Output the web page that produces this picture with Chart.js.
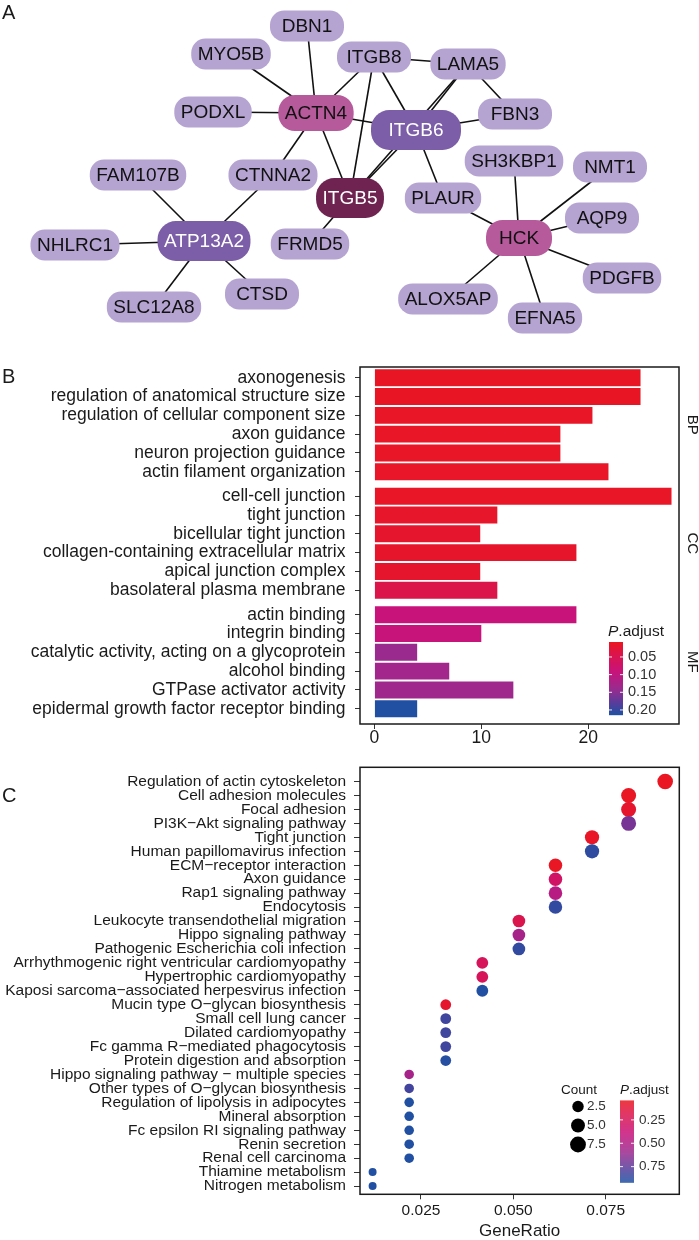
<!DOCTYPE html>
<html>
<head>
<meta charset="utf-8">
<script src="https://cdn.jsdelivr.net/npm/chart.js@4.4.1/dist/chart.umd.min.js"></script>
<style>
  html, body { margin: 0; padding: 0; background: #fff; }
  #wrap { position: relative; width: 699px; height: 1240px; background: #fff; }
  canvas { position: absolute; left: 0; }
</style>
</head>
<body>
<div id="wrap">
  <canvas id="netChart" width="699" height="340" style="top:0px"></canvas>
  <canvas id="barChart" width="699" height="410" style="top:340px"></canvas>
  <canvas id="dotChart" width="699" height="490" style="top:750px"></canvas>
</div>
<script>
"use strict";

// ---- A: PPI network (layout coordinates, y grows downward) ----
const geneNames = ["DBN1", "MYO5B", "PODXL", "ACTN4", "ITGB8", "LAMA5", "FBN3", "ITGB6",
  "SH3KBP1", "NMT1", "CTNNA2", "FAM107B", "ITGB5", "PLAUR", "HCK", "AQP9", "PDGFB",
  "ALOX5AP", "EFNA5", "ATP13A2", "NHLRC1", "FRMD5", "CTSD", "SLC12A8"];
const layoutX = [307, 231, 213, 316, 374, 468, 515, 416, 514, 610, 273, 138, 350, 443,
  519, 602, 622, 448, 545, 204, 75, 310, 262, 154];
const layoutY = [26, 54, 112, 113, 57, 64, 114, 130, 161, 167, 175, 175, 198, 198,
  238, 218, 278, 299, 318, 241, 245, 244, 294, 307];
// 0 = leaf, 1 = hub, 2 = big hub, 3 = core
const geneLevel = [0, 0, 0, 1, 0, 0, 0, 2, 0, 0, 0, 0, 3, 0, 1, 0, 0, 0, 0, 2, 0, 0, 0, 0];
const links = [
  ["ACTN4", "MYO5B"], ["ACTN4", "DBN1"], ["ACTN4", "PODXL"], ["ACTN4", "ITGB8"],
  ["ACTN4", "ITGB6"], ["ACTN4", "CTNNA2"], ["ACTN4", "ITGB5"],
  ["ITGB8", "LAMA5"], ["ITGB8", "ITGB6"], ["ITGB8", "ITGB5"],
  ["LAMA5", "ITGB6"], ["LAMA5", "ITGB5"], ["LAMA5", "FBN3"],
  ["ITGB6", "FBN3"], ["ITGB6", "ITGB5"], ["ITGB6", "PLAUR"],
  ["ITGB5", "FRMD5"], ["CTNNA2", "ATP13A2"],
  ["ATP13A2", "FAM107B"], ["ATP13A2", "NHLRC1"], ["ATP13A2", "SLC12A8"], ["ATP13A2", "CTSD"],
  ["HCK", "SH3KBP1"], ["HCK", "NMT1"], ["HCK", "AQP9"], ["HCK", "PDGFB"],
  ["HCK", "EFNA5"], ["HCK", "ALOX5AP"], ["HCK", "PLAUR"]
];

// ---- B: GO enrichment ----
const goOntology = ["BP", "CC", "MF"];
const goTerms = [
  "axonogenesis",
  "regulation of anatomical structure size",
  "regulation of cellular component size",
  "axon guidance",
  "neuron projection guidance",
  "actin filament organization",
  "cell-cell junction",
  "tight junction",
  "bicellular tight junction",
  "collagen-containing extracellular matrix",
  "apical junction complex",
  "basolateral plasma membrane",
  "actin binding",
  "integrin binding",
  "catalytic activity, acting on a glycoprotein",
  "alcohol binding",
  "GTPase activator activity",
  "epidermal growth factor receptor binding"
];
const goCounts = [24.9, 24.9, 20.4, 17.4, 17.4, 21.9, 27.8, 11.5, 9.9, 18.9, 9.9, 11.5,
  18.9, 10, 4, 7, 13, 4];
const goPadj = [0.011, 0.011, 0.012, 0.012, 0.012, 0.013, 0.012, 0.015, 0.018, 0.016, 0.018,
  0.040, 0.090, 0.092, 0.140, 0.132, 0.136, 0.214];
const barTicks = [0, 10, 20];
const goPadjBreaks = [0.05, 0.10, 0.15, 0.20];

// ---- C: KEGG enrichment ----
const keggTerms = [
  "Regulation of actin cytoskeleton",
  "Cell adhesion molecules",
  "Focal adhesion",
  "PI3K\u2212Akt signaling pathway",
  "Tight junction",
  "Human papillomavirus infection",
  "ECM\u2212receptor interaction",
  "Axon guidance",
  "Rap1 signaling pathway",
  "Endocytosis",
  "Leukocyte transendothelial migration",
  "Hippo signaling pathway",
  "Pathogenic Escherichia coli infection",
  "Arrhythmogenic right ventricular cardiomyopathy",
  "Hypertrophic cardiomyopathy",
  "Kaposi sarcoma\u2212associated herpesvirus infection",
  "Mucin type O\u2212glycan biosynthesis",
  "Small cell lung cancer",
  "Dilated cardiomyopathy",
  "Fc gamma R\u2212mediated phagocytosis",
  "Protein digestion and absorption",
  "Hippo signaling pathway \u2212 multiple species",
  "Other types of O\u2212glycan biosynthesis",
  "Regulation of lipolysis in adipocytes",
  "Mineral absorption",
  "Fc epsilon RI signaling pathway",
  "Renin secretion",
  "Renal cell carcinoma",
  "Thiamine metabolism",
  "Nitrogen metabolism"
];
const keggRatio = [0.0911, 0.0812, 0.0812, 0.0812, 0.0713, 0.0713, 0.0614, 0.0614, 0.0614,
  0.0614, 0.0515, 0.0515, 0.0515, 0.0416, 0.0416, 0.0416, 0.0317, 0.0317, 0.0317, 0.0317,
  0.0317, 0.0218, 0.0218, 0.0218, 0.0218, 0.0218, 0.0218, 0.0218, 0.0119, 0.0119];
const keggCount = [9, 8, 8, 8, 7, 7, 6, 6, 6, 6, 5, 5, 5, 4, 4, 4, 3, 3, 3, 3, 3, 2, 2, 2, 2,
  2, 2, 2, 1, 1];
const keggPadj = [0.045, 0.05, 0.085, 0.69, 0.06, 0.88, 0.05, 0.30, 0.47, 0.87, 0.19, 0.55,
  0.87, 0.25, 0.25, 0.914, 0.085, 0.835, 0.835, 0.835, 0.90, 0.55, 0.83, 0.914, 0.914,
  0.914, 0.914, 0.914, 0.914, 0.914];
const ratioTicks = [0.025, 0.05, 0.075];
const countBreaks = [2.5, 5.0, 7.5];
const keggPadjBreaks = [0.25, 0.50, 0.75];

// ---------------------------------------------------------------
const FONT = "'Liberation Sans', Arial, Helvetica, sans-serif";
const INK = "#1a1a1a";

const rampStops = [
  [0.00, [234, 22, 33]],
  [0.15, [220, 20, 72]],
  [0.40, [200, 19, 122]],
  [0.64, [155, 42, 142]],
  [0.85, [84, 62, 155]],
  [1.00, [33, 80, 162]]
];
function rampColor(t) {
  t = Math.min(1, Math.max(0, t));
  for (let k = 1; k < rampStops.length; k++) {
    const [t1, c1] = rampStops[k];
    if (t <= t1) {
      const [t0, c0] = rampStops[k - 1];
      const f = (t - t0) / (t1 - t0);
      const c = c0.map((v, j) => Math.round(v + (c1[j] - v) * f));
      return `rgb(${c[0]},${c[1]},${c[2]})`;
    }
  }
  return "rgb(33,80,162)";
}

function panelLetter(ctx, letter, y) {
  ctx.save();
  ctx.fillStyle = INK;
  ctx.font = `20px ${FONT}`;
  ctx.textAlign = "left";
  ctx.textBaseline = "alphabetic";
  ctx.fillText(letter, 2, y);
  ctx.restore();
}

function padjTitle(ctx, x, y, size) {
  ctx.save();
  ctx.fillStyle = INK;
  ctx.textBaseline = "middle";
  ctx.textAlign = "left";
  ctx.font = `italic ${size}px ${FONT}`;
  ctx.fillText("P", x, y);
  const w = ctx.measureText("P").width;
  ctx.font = `${size}px ${FONT}`;
  ctx.fillText(".adjust", x + w, y);
  ctx.restore();
}

function colorbar(ctx, x, top, w, h, pMin, pMax, breaks, digits, size) {
  ctx.save();
  for (let k = 0; k < h; k++) {
    ctx.fillStyle = rampColor(k / (h - 1));
    ctx.fillRect(x, top + k, w, 1.2);
  }
  ctx.font = `${size}px ${FONT}`;
  ctx.textAlign = "left";
  ctx.textBaseline = "middle";
  breaks.forEach((b) => {
    const yy = top + (b - pMin) / (pMax - pMin) * h;
    ctx.strokeStyle = "rgba(255,255,255,0.9)";
    ctx.lineWidth = 1;
    ctx.beginPath();
    ctx.moveTo(x, yy); ctx.lineTo(x + 3, yy);
    ctx.moveTo(x + w - 3, yy); ctx.lineTo(x + w, yy);
    ctx.stroke();
    ctx.fillStyle = "#333";
    ctx.fillText(b.toFixed(digits), x + w + 5, yy);
  });
  ctx.restore();
}

function boxPlugin(id) {
  return {
    id: id,
    afterDraw(chart) {
      const { ctx, chartArea: a } = chart;
      ctx.save();
      ctx.strokeStyle = INK;
      ctx.lineWidth = 1.5;
      ctx.strokeRect(a.left, a.top, a.right - a.left, a.bottom - a.top);
      ctx.restore();
    }
  };
}

// ---------------- A ----------------
const nodeFill = ["#b5a4d2", "#b65a9b", "#7b5ea7", "#6e2350"];
const nodeInk = ["#111", "#111", "#fff", "#fff"];
const nodeH = [31, 36, 40, 40];
const nodeMinW = [74, 66, 90, 66];

const netNodes = {
  id: "netNodes",
  afterDatasetsDraw(chart) {
    const { ctx, scales: { x, y } } = chart;
    ctx.save();
    ctx.font = `19px ${FONT}`;
    ctx.textAlign = "center";
    ctx.textBaseline = "middle";
    geneNames.forEach((name, i) => {
      const lv = geneLevel[i];
      const cx = x.getPixelForValue(layoutX[i]);
      const cy = y.getPixelForValue(layoutY[i]);
      const tw = ctx.measureText(name).width;
      const w = Math.max(nodeMinW[lv], tw + 13);
      const h = nodeH[lv];
      ctx.fillStyle = nodeFill[lv];
      ctx.beginPath();
      ctx.roundRect(cx - w / 2, cy - h / 2, w, h, h * 0.46);
      ctx.fill();
      ctx.fillStyle = nodeInk[lv];
      ctx.fillText(name, cx, cy + 1);
    });
    ctx.restore();
    panelLetter(ctx, "A", 18.5);
  }
};

const edgeSets = links.map(([a, b]) => {
  const i = geneNames.indexOf(a);
  const j = geneNames.indexOf(b);
  return {
    data: [{ x: layoutX[i], y: layoutY[i] }, { x: layoutX[j], y: layoutY[j] }],
    showLine: true,
    borderColor: "#111",
    borderWidth: 1.6,
    pointRadius: 0,
    fill: false
  };
});

new Chart(document.getElementById("netChart"), {
  type: "scatter",
  data: { datasets: edgeSets },
  options: {
    responsive: false,
    devicePixelRatio: 1,
    animation: false,
    events: [],
    layout: { padding: 0 },
    plugins: { legend: { display: false }, tooltip: { enabled: false } },
    scales: {
      x: { type: "linear", display: false, min: 0, max: 699 },
      y: { type: "linear", display: false, min: 0, max: 340, reverse: true }
    }
  },
  plugins: [netNodes]
});

// ---------------- B ----------------
const perGroup = 6;
const groupGap = 0.3;
const rowPos = goTerms.map((_, i) => i + Math.floor(i / perGroup) * groupGap);
const bPMin = 0.0076, bPMax = 0.2143;

const barExtras = {
  id: "barExtras",
  afterDraw(chart) {
    const { ctx, scales: { y } } = chart;
    ctx.save();
    ctx.fillStyle = INK;
    ctx.font = `15px ${FONT}`;
    ctx.textAlign = "center";
    ctx.textBaseline = "alphabetic";
    goOntology.forEach((g, k) => {
      const mid = (rowPos[k * perGroup] + rowPos[k * perGroup + perGroup - 1]) / 2;
      ctx.save();
      ctx.translate(688, y.getPixelForValue(mid));
      ctx.rotate(Math.PI / 2);
      ctx.fillText(g, 0, 0);
      ctx.restore();
    });
    ctx.restore();
    padjTitle(ctx, 608, 292, 15.5);
    colorbar(ctx, 609, 302, 14, 73, bPMin, bPMax, goPadjBreaks, 2, 14.5);
    panelLetter(ctx, "B", 43);
  }
};

new Chart(document.getElementById("barChart"), {
  type: "bar",
  data: {
    datasets: [{
      data: goCounts.map((v, i) => ({ x: v, y: rowPos[i] })),
      backgroundColor: goPadj.map((p) => rampColor((p - bPMin) / (bPMax - bPMin))),
      borderWidth: 0,
      barPercentage: 0.9,
      categoryPercentage: 1.0
    }]
  },
  options: {
    indexAxis: "y",
    responsive: false,
    devicePixelRatio: 1,
    animation: false,
    events: [],
    layout: { padding: { left: 0, right: 20, top: 27, bottom: 0 } },
    plugins: { legend: { display: false }, tooltip: { enabled: false } },
    scales: {
      y: {
        type: "linear",
        reverse: true,
        offset: false,
        min: -0.57,
        max: 18.41,
        afterBuildTicks: (s) => { s.ticks = rowPos.map((v) => ({ value: v })); },
        afterFit: (s) => { s.width = 360; },
        grid: { display: true, offset: false, drawOnChartArea: false, drawTicks: true, tickLength: 5, color: "#333" },
        border: { display: false },
        ticks: {
          autoSkip: false,
          padding: 9.5,
          color: INK,
          font: { family: FONT, size: 17.5 },
          callback: (v, idx) => goTerms[idx]
        }
      },
      x: {
        type: "linear",
        min: -1.35,
        max: 28.5,
        afterBuildTicks: (s) => { s.ticks = barTicks.map((v) => ({ value: v })); },
        afterFit: (s) => { s.height = 26; },
        grid: { display: true, drawOnChartArea: false, drawTicks: true, tickLength: 5, color: "#333" },
        border: { display: false },
        ticks: {
          autoSkip: false,
          maxRotation: 0,
          padding: 0,
          color: INK,
          font: { family: FONT, size: 17.5, lineHeight: 1 },
          callback: (v) => String(v)
        }
      }
    }
  },
  plugins: [boxPlugin("barBox"), barExtras]
});

// ---------------- C ----------------
const cPMin = 0.043, cPMax = 0.914;
function dotRadius(c) {
  return 2.1 + 1.9 * Math.sqrt(c);
}

const dotExtras = {
  id: "dotExtras",
  afterDraw(chart) {
    const { ctx } = chart;
    ctx.save();
    ctx.fillStyle = INK;
    ctx.font = `13.5px ${FONT}`;
    ctx.textAlign = "left";
    ctx.textBaseline = "middle";
    ctx.fillText("Count", 561, 340);
    countBreaks.forEach((c, k) => {
      const yy = 356.5 + k * 19;
      ctx.fillStyle = "#000";
      ctx.beginPath();
      ctx.arc(578, yy, dotRadius(c) + 0.6, 0, Math.PI * 2);
      ctx.fill();
      ctx.fillStyle = "#333";
      ctx.fillText(c.toFixed(1), 587, yy);
    });
    ctx.restore();
    padjTitle(ctx, 620, 340, 13.5);
    colorbar(ctx, 620, 350.5, 14, 81.5, cPMin, cPMax, keggPadjBreaks, 2, 13.5);
    panelLetter(ctx, "C", 52);
  }
};

new Chart(document.getElementById("dotChart"), {
  type: "scatter",
  data: {
    datasets: [{
      data: keggRatio.map((r, i) => ({ x: r, y: i })),
      pointRadius: (c) => dotRadius(keggCount[c.dataIndex]),
      backgroundColor: (c) => rampColor((keggPadj[c.dataIndex] - cPMin) / (cPMax - cPMin)),
      borderWidth: 0
    }]
  },
  options: {
    responsive: false,
    devicePixelRatio: 1,
    animation: false,
    events: [],
    layout: { padding: { left: 0, right: 19.7, top: 15, bottom: 0 } },
    plugins: { legend: { display: false }, tooltip: { enabled: false } },
    scales: {
      y: {
        type: "linear",
        reverse: true,
        min: -1.02,
        max: 29.59,
        afterBuildTicks: (s) => { s.ticks = keggTerms.map((_, i) => ({ value: i })); },
        afterFit: (s) => { s.width = 360; },
        grid: { display: true, drawOnChartArea: false, drawTicks: true, tickLength: 6, color: "#333" },
        border: { display: false },
        ticks: {
          autoSkip: false,
          padding: 8,
          color: INK,
          font: { family: FONT, size: 15.5 },
          callback: (v, idx) => keggTerms[idx]
        }
      },
      x: {
        type: "linear",
        min: 0.00849,
        max: 0.09492,
        afterBuildTicks: (s) => { s.ticks = ratioTicks.map((v) => ({ value: v })); },
        afterFit: (s) => { s.height = 45.7; },
        grid: { display: true, drawOnChartArea: false, drawTicks: true, tickLength: 5, color: "#333" },
        border: { display: false },
        title: {
          display: true,
          text: "GeneRatio",
          color: INK,
          padding: 0,
          font: { family: FONT, size: 17, lineHeight: 1 }
        },
        ticks: {
          autoSkip: false,
          maxRotation: 0,
          padding: 4,
          color: INK,
          font: { family: FONT, size: 15.5, lineHeight: 1 },
          callback: (v) => v.toFixed(3)
        }
      }
    }
  },
  plugins: [boxPlugin("dotBox"), dotExtras]
});
</script>
</body>
</html>
